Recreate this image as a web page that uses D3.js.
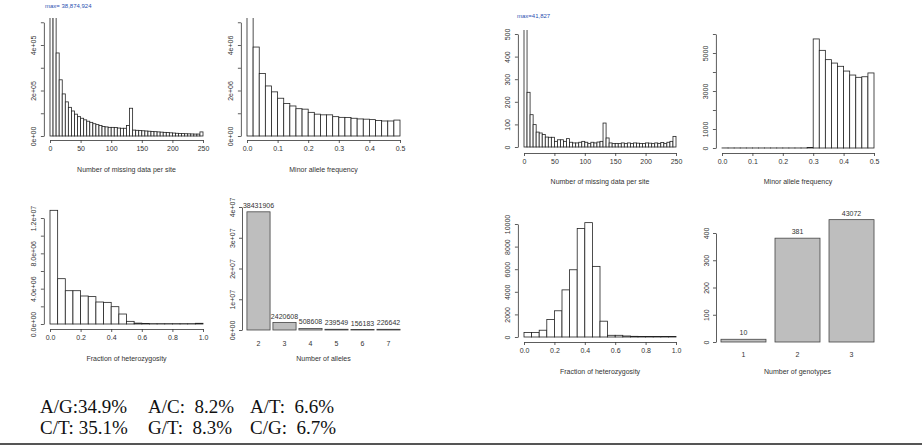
<!DOCTYPE html>
<html>
<head>
<meta charset="utf-8">
<script src="https://cdn.jsdelivr.net/npm/d3@7"></script>
<style>
body{margin:0;background:#fff}
text{font-family:"Liberation Sans",Arial,sans-serif}
text.sub{font-family:"Liberation Serif","Times New Roman",serif}
</style>
</head>
<body>
<svg id="fig" width="922" height="446"></svg>
<script>
// ---- data ----
// left half: all sites
const missBins1 = [38874924, 900000, 365000, 247000, 185000, 150000, 126000, 110000, 96000, 85000,
  78000, 71000, 65000, 60000, 54000, 50000, 46000, 42000, 40000, 38000,
  38000, 37000, 35000, 34000, 34000, 46000, 122000, 26000, 25000, 24000,
  23000, 22000, 21000, 20000, 19000, 18000, 17000, 16000, 15000, 14000,
  13000, 12000, 11000, 10500, 10000, 9500, 9000, 8500, 8500, 18000];
const mafBins1 = [8000000, 3910000, 2750000, 2200000, 1940000, 1660000, 1430000, 1320000, 1200000, 1180000,
  1040000, 960000, 930000, 930000, 850000, 820000, 810000, 780000, 750000, 740000,
  720000, 680000, 660000, 660000, 700000];
const hetBins1 = [12870000, 5130000, 3770000, 3770000, 3170000, 3100000, 2490000, 2450000, 1960000, 1130000,
  300000, 100000, 50000, 40000, 40000, 40000, 40000, 40000, 40000, 80000];
const alleleCats = ["2", "3", "4", "5", "6", "7"];
const alleleCounts = [38431906, 2420608, 508608, 239549, 156183, 226642];

// right half: selected sites
const missBins2 = [41827, 242, 143, 99, 66, 62, 55, 44, 43, 43,
  25, 32, 32, 25, 37, 21, 18, 18, 21, 25,
  21, 15, 21, 18, 22, 25, 106, 40, 18, 15,
  16, 15, 18, 15, 18, 15, 18, 17, 16, 15,
  18, 17, 15, 18, 16, 20, 15, 21, 25, 47];
const mafBins2 = [3, 2, 2, 2, 2, 2, 2, 2, 2, 2, 2, 2, 2, 2, 30,
  5740, 5140, 4650, 4470, 4300, 4050, 3840, 3720, 3750, 3950];
const hetBins2 = [390, 390, 600, 1550, 2320, 4170, 5950, 9610, 10120, 6250,
  1400, 150, 150, 90, 60, 50, 50, 40, 40, 40];
const genoCats = ["1", "2", "3"];
const genoCounts = [10, 381, 449];
const genoLabels = ["10", "381", "43072"];

// substitution types
const subRow1 = ["A/G:34.9%", "A/C:\u00a0\u00a08.2%", "A/T:\u00a0\u00a06.6%"];
const subRow2 = ["C/T: 35.1%", "G/T:\u00a0\u00a08.3%", "C/G:\u00a0\u00a06.7%"];

const svg = d3.select("#fig");
svg.append("rect").attr("width", 922).attr("height", 446).attr("fill", "#fff");

const TXT = "#333";
const FS = 7;

function yAxis(g, y, axisX, ticks, labelled, fmt) {
  const ys = y.copy().domain([ticks[0], ticks[ticks.length - 1]])
    .range([y(ticks[0]), y(ticks[ticks.length - 1])]);
  const ax = g.append("g").attr("transform", "translate(" + axisX + ",0)")
    .call(d3.axisLeft(ys).tickValues(ticks).tickSize(3).tickSizeOuter(0)
      .tickFormat(d => labelled.includes(d) ? fmt(d) : ""));
  ax.select(".domain").attr("stroke", TXT).attr("stroke-width", 0.8);
  ax.selectAll(".tick line").attr("stroke", TXT).attr("stroke-width", 0.8);
  ax.selectAll(".tick text")
    .attr("transform", "rotate(-90)")
    .attr("x", 0).attr("y", -7.5).attr("dy", 0)
    .attr("text-anchor", "middle")
    .attr("font-size", FS).attr("fill", TXT).attr("font-family", null);
}

function xAxis(g, x, axisY, ticks, fmt) {
  const xs = x.copy().domain([ticks[0], ticks[ticks.length - 1]])
    .range([x(ticks[0]), x(ticks[ticks.length - 1])]);
  const ax = g.append("g").attr("transform", "translate(0," + axisY + ")")
    .call(d3.axisBottom(xs).tickValues(ticks).tickSize(3).tickSizeOuter(0).tickFormat(fmt));
  ax.select(".domain").attr("stroke", TXT).attr("stroke-width", 0.8);
  ax.selectAll(".tick line").attr("stroke", TXT).attr("stroke-width", 0.8);
  ax.selectAll(".tick text").attr("y", 6).attr("dy", "0.71em")
    .attr("font-size", FS).attr("fill", TXT).attr("font-family", null);
}

function title(g, x, y, s) {
  g.append("text").attr("x", x).attr("y", y).attr("text-anchor", "middle")
    .attr("font-size", FS).attr("fill", TXT).text(s);
}

function drawHist(o) {
  const g = svg.append("g");
  const x = d3.scaleLinear().domain(o.xDomain).range(o.xRange);
  const y = d3.scaleLinear().domain(o.yDomain).range(o.yRange);
  const cid = "clip" + o.id;
  svg.append("clipPath").attr("id", cid).append("rect")
    .attr("x", 0).attr("y", o.clipTop).attr("width", 922).attr("height", 446);
  g.append("g").attr("clip-path", "url(#" + cid + ")")
    .selectAll("rect").data(o.bins).join("rect")
    .attr("x", (d, i) => x(o.xDomain[0] + i * o.bw))
    .attr("width", x(o.bw) - x(0))
    .attr("y", d => y(d))
    .attr("height", d => y(0) - y(d))
    .attr("fill", "#fff").attr("stroke", "#222").attr("stroke-width", 0.8);
  const axisX = x(o.xDomain[0] - 0.04 * (o.xDomain[1] - o.xDomain[0]));
  yAxis(g, y, axisX, o.yTicks, o.yLabelled, o.yFmt);
  xAxis(g, x, o.xAxisY, o.xTicks, o.xFmt);
  title(g, (o.xRange[0] + o.xRange[1]) / 2, o.titleY, o.xTitle);
  if (o.maxLabel) {
    g.append("text").attr("x", o.maxX).attr("y", o.maxY)
      .attr("font-size", 6).attr("fill", "#2a4fb0").text(o.maxLabel);
  }
}

function drawBars(o) {
  const g = svg.append("g");
  const x = d3.scaleBand().domain(o.cats).range(o.xRange)
    .paddingInner(o.padIn).paddingOuter(o.padOut);
  const y = d3.scaleLinear().domain(o.yDomain).range(o.yRange);
  g.selectAll("rect").data(o.values).join("rect")
    .attr("x", (d, i) => x(o.cats[i]))
    .attr("width", x.bandwidth())
    .attr("y", d => y(d))
    .attr("height", d => y(0) - y(d))
    .attr("fill", "#bebebe").attr("stroke", "#444").attr("stroke-width", 0.8);
  g.selectAll("text.val").data(o.labels).join("text").attr("class", "val")
    .attr("x", (d, i) => x(o.cats[i]) + x.bandwidth() / 2)
    .attr("y", (d, i) => y(o.values[i]) - 4)
    .attr("text-anchor", "middle").attr("font-size", FS).attr("fill", TXT)
    .text(d => d);
  g.selectAll("text.cat").data(o.cats).join("text").attr("class", "cat")
    .attr("x", d => x(d) + x.bandwidth() / 2)
    .attr("y", o.catY)
    .attr("text-anchor", "middle").attr("font-size", FS).attr("fill", TXT)
    .text(d => d);
  yAxis(g, y, o.axisX, o.yTicks, o.yTicks, o.yFmt);
  title(g, (o.xRange[0] + o.xRange[1]) / 2, o.titleY, o.xTitle);
}

const sci0 = d => d === 0 ? "0e+00" : d3.format(".0e")(d).replace("e+", "e+0");
const sci1 = d => d === 0 ? "0.0e+00" : d3.format(".1e")(d).replace(/e\+(\d)$/, "e+0$1");
const f1 = d3.format(".1f");
const plain = d => String(d);

// ---- left half ----
drawHist({
  id: 1, bins: missBins1, bw: 5, xDomain: [0, 250], xRange: [50, 203],
  yDomain: [0, 500000], yRange: [136, 22.25], clipTop: 18,
  yTicks: d3.range(0, 500001, 100000), yLabelled: [0, 200000, 400000], yFmt: sci0,
  xAxisY: 140, xTicks: [0, 50, 100, 150, 200, 250], xFmt: plain,
  titleY: 171.5, xTitle: "Number of missing data per site",
  maxLabel: "max= 38,874,924", maxX: 45, maxY: 8
});
drawHist({
  id: 2, bins: mafBins1, bw: 0.02, xDomain: [0, 0.5], xRange: [247, 400],
  yDomain: [0, 5000000], yRange: [136, 22.25], clipTop: 18,
  yTicks: d3.range(0, 5000001, 1000000), yLabelled: [0, 2000000, 4000000], yFmt: sci0,
  xAxisY: 140, xTicks: [0, 0.1, 0.2, 0.3, 0.4, 0.5], xFmt: f1,
  titleY: 171.5, xTitle: "Minor allele frequency"
});
drawHist({
  id: 3, bins: hetBins1, bw: 0.05, xDomain: [0, 1], xRange: [50, 203],
  yDomain: [0, 12000000], yRange: [324, 218], clipTop: 0,
  yTicks: d3.range(0, 12000001, 2000000), yLabelled: [0, 4000000, 8000000, 12000000], yFmt: sci1,
  xAxisY: 329, xTicks: [0, 0.2, 0.4, 0.6, 0.8, 1], xFmt: f1,
  titleY: 360.5, xTitle: "Fraction of heterozygosity"
});
drawBars({
  cats: alleleCats, values: alleleCounts, labels: alleleCounts.map(String),
  xRange: [245.5, 401.5], padIn: 0.11, padOut: 0.055,
  yDomain: [0, 40000000], yRange: [330, 207], axisX: 242,
  yTicks: [0, 10000000, 20000000, 30000000, 40000000], yFmt: sci0,
  catY: 345.5, titleY: 360.5, xTitle: "Number of alleles"
});

// ---- right half ----
drawHist({
  id: 5, bins: missBins2, bw: 5, xDomain: [0, 250], xRange: [524, 676],
  yDomain: [0, 500], yRange: [147, 34], clipTop: 30,
  yTicks: d3.range(0, 501, 100), yLabelled: d3.range(0, 501, 100), yFmt: plain,
  xAxisY: 153, xTicks: [0, 50, 100, 150, 200, 250], xFmt: plain,
  titleY: 183.5, xTitle: "Number of missing data per site",
  maxLabel: "max=41,827", maxX: 517, maxY: 18
});
drawHist({
  id: 6, bins: mafBins2, bw: 0.02, xDomain: [0, 0.5], xRange: [722, 874],
  yDomain: [0, 6000], yRange: [148, 34], clipTop: 0,
  yTicks: d3.range(0, 6001, 1000), yLabelled: [0, 1000, 3000, 5000], yFmt: plain,
  xAxisY: 153, xTicks: [0, 0.1, 0.2, 0.3, 0.4, 0.5], xFmt: f1,
  titleY: 183.5, xTitle: "Minor allele frequency"
});
drawHist({
  id: 7, bins: hetBins2, bw: 0.05, xDomain: [0, 1], xRange: [524, 676],
  yDomain: [0, 10000], yRange: [337, 224], clipTop: 0,
  yTicks: d3.range(0, 10001, 2000), yLabelled: d3.range(0, 10001, 2000), yFmt: plain,
  xAxisY: 342, xTicks: [0, 0.2, 0.4, 0.6, 0.8, 1], xFmt: f1,
  titleY: 373.5, xTitle: "Fraction of heterozygosity"
});
drawBars({
  cats: genoCats, values: genoCounts, labels: genoLabels,
  xRange: [716.5, 878.5], padIn: 0.167, padOut: 0.083,
  yDomain: [0, 400], yRange: [342, 233], axisX: 716,
  yTicks: [0, 100, 200, 300, 400], yFmt: plain,
  catY: 356.5, titleY: 373.5, xTitle: "Number of genotypes"
});

// ---- substitution summary ----
const colX = [40, 148, 250];
[subRow1, subRow2].forEach((row, r) => {
  svg.selectAll(null).data(row).join("text")
    .attr("class", "sub")
    .attr("x", (d, i) => colX[i]).attr("y", 413 + r * 21)
    .attr("font-size", 19).attr("fill", "#111")
    .text(d => d);
});
svg.append("line").attr("x1", 0).attr("x2", 922).attr("y1", 444).attr("y2", 444)
  .attr("stroke", "#555").attr("stroke-width", 2);
</script>
</body>
</html>
